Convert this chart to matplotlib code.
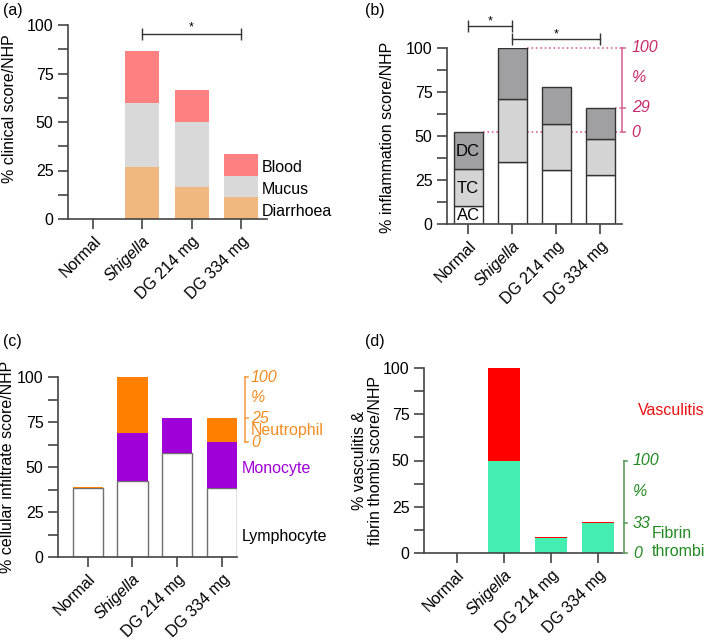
import numpy as np
import matplotlib.pyplot as plt

plt.rcParams['font.family'] = ['Liberation Sans', 'DejaVu Sans']
plt.rcParams['font.size'] = 11.5

groups = ['Normal', 'Shigella', 'DG 214 mg', 'DG 334 mg']

# (a) clinical score
diarrhoea = [0, 26.7, 16.7, 11.1]
mucus = [0, 33.3, 33.3, 11.1]
blood = [0, 26.7, 16.7, 11.1]

# (b) inflammation score
ac = [10.3, 35.2, 30.8, 27.6]
tc = [20.7, 35.8, 26.2, 20.7]
dc = [21.0, 29.0, 21.0, 17.7]
pink_ticks = ['0', '29', '100']

# (c) cellular infiltrate
lymph = [38.5, 42.0, 57.6, 38.2]
mono = [0, 27.0, 19.4, 25.6]
neutro = [0.5, 31.0, 0.4, 13.2]
orange_ticks = ['0', '25', '100']

# (d) vasculitis & fibrin thrombi
fibrin = [0, 50.0, 8.1, 16.2]
vasculitis = [0, 50.0, 0.5, 0.6]
green_ticks = ['0', '33', '100']

W, H = 709, 640
fig = plt.figure(figsize=(W / 100, H / 100), dpi=100)


def make_axes(left, right, top, bottom, xlim):
    ax = fig.add_axes([left / W, 1 - bottom / H, (right - left) / W, (bottom - top) / H])
    ax.set_xlim(*xlim)
    ax.set_ylim(0, 100)
    for s in ['top', 'right']:
        ax.spines[s].set_visible(False)
    for s in ['left', 'bottom']:
        ax.spines[s].set_color('#444444')
        ax.spines[s].set_linewidth(1.2)
    ax.set_yticks([0, 25, 50, 75, 100])
    ax.set_yticks(np.arange(12.5, 100, 25), minor=True)
    ax.tick_params(which='both', direction='out', length=7, width=1.2, color='#444444', labelsize=11.5)
    ax.set_xticks(range(len(groups)))
    ax.set_xticklabels(groups, rotation=45, ha='right', va='top', rotation_mode='anchor')
    ax.get_xticklabels()[1].set_style('italic')
    return ax


def bracket(ax, x0, x1, y, ystar):
    ax.plot([x0, x1], [y, y], color='#333333', lw=1, marker='|', ms=8, mew=1, clip_on=False)
    ax.text((x0 + x1) / 2, ystar, '*', ha='center', va='center', fontsize=9, clip_on=False)


def scale_bar(ax, x, pos, labels, lcol, tcol, tl, tx):
    ax.plot([x, x], [pos[0], pos[-1]], color=lcol, lw=1.2, clip_on=False)
    for p, lab in zip(pos, labels):
        ax.plot([x, x + tl], [p, p], color=lcol, lw=1.2, clip_on=False)
        ax.text(tx, p, lab, color=tcol, style='italic', va='center', ha='left', clip_on=False)
    ax.text(tx, (pos[1] + pos[2]) / 2, '%', color=tcol, style='italic', va='center', ha='left',
            clip_on=False)


x = np.arange(len(groups))

# ---- (a)
ax = make_axes(68, 267, 25, 219, (-0.51, 3.53))
w = 0.69
b1 = np.array(diarrhoea)
b2 = b1 + np.array(mucus)
ax.bar(x, diarrhoea, w, color='#f0b77e')
ax.bar(x, mucus, w, bottom=b1, color='#d9d9d9')
ax.bar(x, blood, w, bottom=b2, color='#ff8080')
ax.set_ylabel('% clinical score/NHP')
ax.yaxis.set_label_coords(-0.256, 0.57)
bracket(ax, 1, 3, 95.4, 98.6)
ax.text(3.42, 26.4, 'Blood', va='center')
ax.text(3.42, 15.0, 'Mucus', va='center')
ax.text(3.42, 3.8, 'Diarrhoea', va='center')
fig.text(3 / W, 1 - 3 / H, '(a)', ha='left', va='top')

# ---- (b)
ax = make_axes(447, 622, 48, 224, (-0.48, 3.5))
w = 0.66
c1 = np.array(ac)
c2 = c1 + np.array(tc)
c3 = c2 + np.array(dc)
pink_line = '#d9679a'
pink_text = '#c92a6c'
ax.plot([1 + w / 2, 3.5], [c3[1], c3[1]], color=pink_line, lw=1.2, ls=':', zorder=0.5, clip_on=False)
ax.plot([3 + w / 2, 3.5], [c3[3], c3[3]], color=pink_line, lw=1.2, ls=':', zorder=0.5, clip_on=False)
ax.plot([w / 2, 3.5], [c3[0], c3[0]], color=pink_line, lw=1.2, ls=':', zorder=0.5, clip_on=False)
ax.bar(x, ac, w, color='white', edgecolor='#333333', lw=1)
ax.bar(x, tc, w, bottom=c1, color='#d4d4d4', edgecolor='#333333', lw=1)
ax.bar(x, dc, w, bottom=c2, color='#a0a0a2', edgecolor='#333333', lw=1)
ax.set_ylabel('% inflammation score/NHP')
ax.yaxis.set_label_coords(-0.297, 0.49)
bracket(ax, 0, 1, 112.7, 115.2)
bracket(ax, 1, 3, 105.3, 107.8)
ax.text(0, 41, 'DC', ha='center', va='center', fontsize=12)
ax.text(0, 20, 'TC', ha='center', va='center', fontsize=12)
ax.text(0, 4.6, 'AC', ha='center', va='center', fontsize=12)
scale_bar(ax, 3.5, [c3[0], c3[3], c3[1]], pink_ticks, pink_line, pink_text, 0.07, 3.72)
fig.text(365 / W, 1 - 3 / H, '(b)', ha='left', va='top')

# ---- (c)
ax = make_axes(58, 237, 377, 557, (-0.66, 3.33))
w = 0.67
d1 = np.array(lymph)
d2 = d1 + np.array(mono)
d3 = d2 + np.array(neutro)
ax.bar(x, lymph, w, color='white', edgecolor='#707070', lw=1)
ax.bar(x, mono, w, bottom=d1, color='#a000d8')
ax.bar(x, neutro, w, bottom=d2, color='#ff8000')
ax.set_ylabel('% cellular infiltrate score/NHP')
ax.yaxis.set_label_coords(-0.24, 0.5)
orange_line = '#f2a04e'
orange_text = '#f28c22'
scale_bar(ax, 3.505, [d2[3], d3[3], d3[1]], orange_ticks, orange_line, orange_text, 0.07, 3.64)
ax.text(3.64, 70.4, 'Neutrophil', color=orange_text, va='center', ha='left', clip_on=False)
ax.text(3.43, 49.4, 'Monocyte', color='#a000d8', va='center', ha='left', clip_on=False)
ax.text(3.43, 11.5, 'Lymphocyte', va='center', ha='left', clip_on=False)
fig.text(3 / W, 1 - 334 / H, '(c)', ha='left', va='top')

# ---- (d)
ax = make_axes(424, 622, 368, 553, (-0.70, 3.51))
w = 0.67
e1 = np.array(fibrin)
ax.bar(x, fibrin, w, color='#44edb0')
ax.bar(x, vasculitis, w, bottom=e1, color='#ff0000')
ax.set_ylabel('% vasculitis &\nfibrin thombi score/NHP', linespacing=1.1)
ax.yaxis.set_label_coords(-0.207, 0.5)
green_line = '#5c9c5c'
green_text = '#238a23'
scale_bar(ax, 3.55, [0, e1[3], e1[1]], green_ticks, green_line, green_text, 0.065, 3.74)
ax.text(4.15, 5.5, 'Fibrin\nthrombi', color=green_text, va='center', ha='left', linespacing=1.25, clip_on=False)
ax.text(3.85, 77, 'Vasculitis', color='#ee1111', va='center', ha='left', clip_on=False)
fig.text(365 / W, 1 - 334 / H, '(d)', ha='left', va='top')

fig.savefig('out.png', dpi=100)
